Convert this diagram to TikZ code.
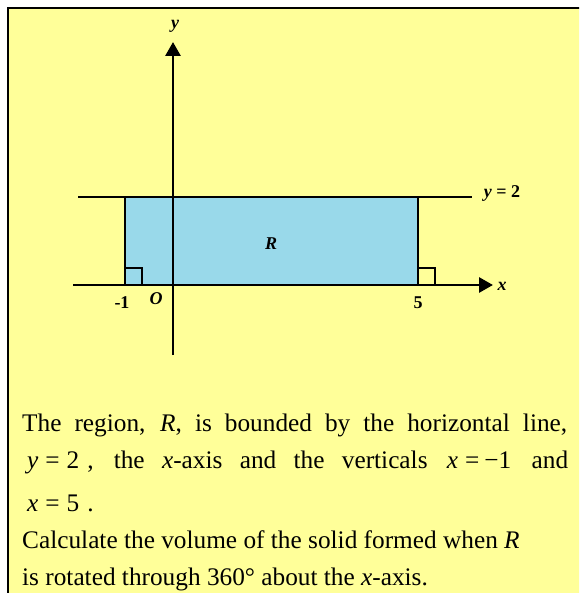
\documentclass[tikz,border=0pt]{standalone}
\usepackage{fontspec}
\setmainfont{Liberation Serif}
\usetikzlibrary{arrows.meta}
\definecolor{bgyellow}{RGB}{255,255,153}
\definecolor{regionblue}{RGB}{153,217,234}
\begin{document}
\begin{tikzpicture}[x=1pt,y=-1pt,
  axisline/.style={line width=2.8pt,-{Triangle[length=14pt,width=15pt]}},
  edgeline/.style={line width=2.2pt},
  rightangle/.style={line width=2.2pt},
  lbl/.style={font=\bfseries\itshape\fontsize{18}{18}\selectfont, inner sep=0pt},
  numlbl/.style={font=\bfseries\fontsize{18}{18}\selectfont, inner sep=0pt},
  txt/.style={anchor=base west, inner sep=0pt, font=\fontsize{25.3}{30}\selectfont}]
\useasboundingbox (0,0) rectangle (579,593);
\begin{scope}
  \clip (0,0) rectangle (579,593);
  \fill[bgyellow] (8,8) rectangle (600,620);
  \draw[line width=2.5pt] (8,620) -- (8,8) -- (600,8);
\end{scope}
% region
\fill[regionblue] (125,197) rectangle (418,285);
% named points
\coordinate (lineL) at (78,197);
\coordinate (lineR) at (472,197);
\coordinate (aTop) at (125,197);
\coordinate (aBot) at (125,285);
\coordinate (bTop) at (418,197);
\coordinate (bBot) at (418,285);
\coordinate (xStart) at (73,285);
\coordinate (xEnd) at (493,285);
\coordinate (yStart) at (173,355);
\coordinate (yEnd) at (173,42);
% lines
\draw[edgeline] (lineL) -- (lineR);
\draw[edgeline] (aTop) -- (aBot);
\draw[edgeline] (bTop) -- (bBot);
\draw[rightangle] (125,268) rectangle (142,285);
\draw[rightangle] (418,268) rectangle (435,285);
\draw[axisline] (xStart) -- (xEnd);
\draw[axisline] (yStart) -- (yEnd);
% labels
\node[lbl] (ylab) at (175,26) {y};
\node[numlbl] (yeq) at (502,193) {\textit{y} = 2};
\node[lbl] (xlab) at (502,286) {x};
\node[numlbl] (m1) at (122,303) {-1};
\node[lbl] (olab) at (156,299) {O};
\node[numlbl] (five) at (418,303) {5};
\node[lbl] (rlab) at (271,244) {R};
% text
\node[txt] (t1) at (22,431) {\makebox[545pt][s]{The region, \textit{R}, is bounded by the horizontal line,}};
\node[txt] (t2) at (27,468) {\makebox[541pt][s]{\textit{y}\kern7pt=\kern7pt2\kern8pt, the \textit{x}-axis and the verticals\hspace{2pt} \textit{x}\kern7pt=\kern5pt−1\hspace{3pt} and}};
\node[txt] (t3) at (27,511) {\textit{x}\kern7pt=\kern7pt5\kern8pt.};
\node[txt] (t4) at (22,548) {Calculate the volume of the solid formed when \textit{R}};
\node[txt] (t5) at (22,585) {is rotated through 360° about the \textit{x}-axis.};
\end{tikzpicture}
\end{document}
